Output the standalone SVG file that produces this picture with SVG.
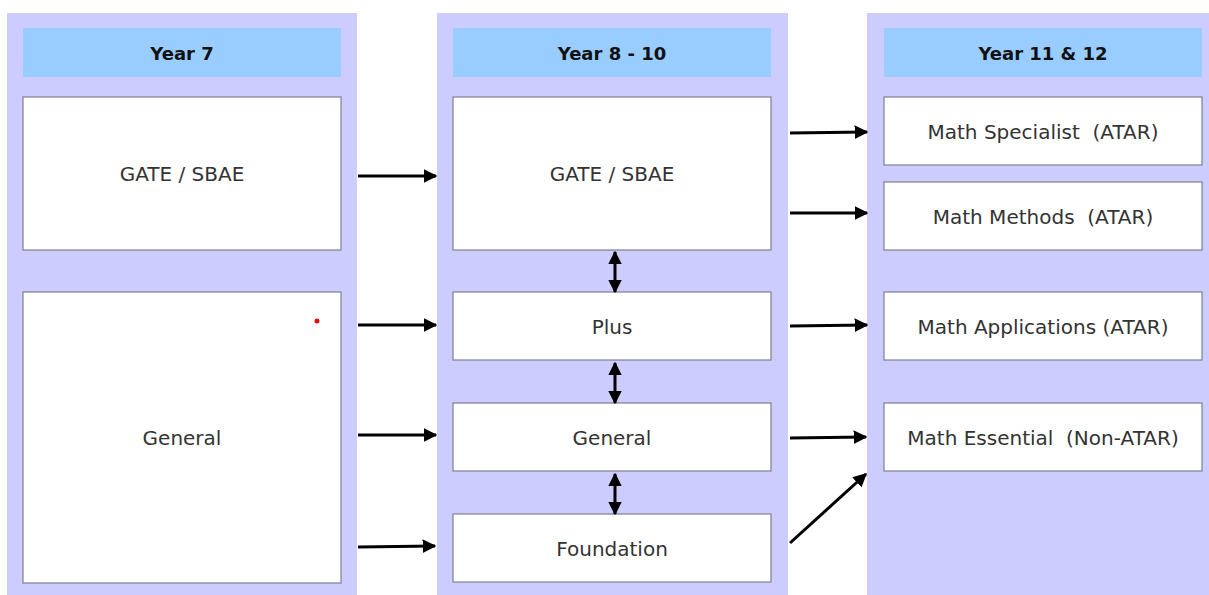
<svg xmlns="http://www.w3.org/2000/svg" width="1209" height="595" viewBox="0 0 1209 595">
  <style>
    .col { fill: #ccccff; }
    .head { fill: #99ccff; }
    .box { fill: #ffffff; stroke: #7f7f8f; stroke-width: 1.2; }
    .ht { font-family: "DejaVu Sans", "Liberation Sans", sans-serif; font-weight: bold; font-size: 18px; fill: #111; text-anchor: middle; dominant-baseline: central; }
    .bt { font-family: "DejaVu Sans", "Liberation Sans", sans-serif; font-size: 20px; fill: #333; text-anchor: middle; dominant-baseline: central; }
    .arr { stroke: #000; stroke-width: 3; fill: none; marker-end: url(#head); }
    .dbl { stroke: #000; stroke-width: 3; fill: none; marker-end: url(#head); marker-start: url(#tail); }
  </style>
  <defs>
    <marker id="head" viewBox="0 0 10 10" refX="9" refY="5" markerWidth="4.6" markerHeight="4.6" orient="auto" markerUnits="strokeWidth">
      <path d="M0,0 L10,5 L0,10 z" fill="#000"/>
    </marker>
    <marker id="tail" viewBox="0 0 10 10" refX="1" refY="5" markerWidth="4.6" markerHeight="4.6" orient="auto" markerUnits="strokeWidth">
      <path d="M10,0 L0,5 L10,10 z" fill="#000"/>
    </marker>
  </defs>
  <rect width="1209" height="595" fill="#ffffff"/>

  <!-- Year 7 column -->
  <g id="col-year7">
    <rect class="col" x="7" y="13" width="350" height="582"/>
    <rect class="head" x="23" y="28" width="318" height="49"/>
    <text class="ht" x="182" y="53">Year 7</text>
  </g>
  <g id="y7-gate">
    <rect class="box" x="23" y="97" width="318" height="153"/>
    <text class="bt" x="182" y="174">GATE / SBAE</text>
  </g>
  <g id="y7-general">
    <rect class="box" x="23" y="292" width="318" height="291"/>
    <text class="bt" x="182" y="438">General</text>
    <circle cx="317" cy="321" r="2.5" fill="#e01010"/>
  </g>

  <!-- Year 8 - 10 column -->
  <g id="col-year8-10">
    <rect class="col" x="437" y="13" width="351" height="582"/>
    <rect class="head" x="453" y="28" width="318" height="49"/>
    <text class="ht" x="612" y="53">Year 8 - 10</text>
  </g>
  <g id="y8-gate">
    <rect class="box" x="453" y="97" width="318" height="153"/>
    <text class="bt" x="612" y="174">GATE / SBAE</text>
  </g>
  <g id="y8-plus">
    <rect class="box" x="453" y="292" width="318" height="68"/>
    <text class="bt" x="612" y="327">Plus</text>
  </g>
  <g id="y8-general">
    <rect class="box" x="453" y="403" width="318" height="68"/>
    <text class="bt" x="612" y="438">General</text>
  </g>
  <g id="y8-foundation">
    <rect class="box" x="453" y="514" width="318" height="68"/>
    <text class="bt" x="612" y="549">Foundation</text>
  </g>

  <!-- Year 11 & 12 column -->
  <g id="col-year11-12">
    <rect class="col" x="867" y="13" width="342" height="582"/>
    <rect class="head" x="884" y="28" width="318" height="49"/>
    <text class="ht" x="1043" y="53">Year 11 &amp; 12</text>
  </g>
  <g id="y11-specialist">
    <rect class="box" x="884" y="97" width="318" height="68"/>
    <text class="bt" x="1043" y="132" xml:space="preserve">Math Specialist  (ATAR)</text>
  </g>
  <g id="y11-methods">
    <rect class="box" x="884" y="182" width="318" height="68"/>
    <text class="bt" x="1043" y="217" xml:space="preserve">Math Methods  (ATAR)</text>
  </g>
  <g id="y11-applications">
    <rect class="box" x="884" y="292" width="318" height="68"/>
    <text class="bt" x="1043" y="327">Math Applications (ATAR)</text>
  </g>
  <g id="y11-essential">
    <rect class="box" x="884" y="403" width="318" height="68"/>
    <text class="bt" x="1043" y="438" xml:space="preserve">Math Essential  (Non-ATAR)</text>
  </g>

  <!-- Connectors -->
  <g id="connectors">
    <line class="arr" x1="358" y1="176" x2="436" y2="176"/>
    <line class="arr" x1="358" y1="325" x2="436" y2="325"/>
    <line class="arr" x1="358" y1="435" x2="436" y2="435"/>
    <line class="arr" x1="358" y1="547" x2="435" y2="546"/>
    <line class="arr" x1="790" y1="133" x2="867" y2="132"/>
    <line class="arr" x1="790" y1="213" x2="867" y2="213"/>
    <line class="arr" x1="790" y1="326" x2="867" y2="325"/>
    <line class="arr" x1="790" y1="438" x2="866" y2="437"/>
    <line class="arr" x1="790" y1="543" x2="866" y2="474"/>
    <line class="dbl" x1="615" y1="252" x2="615" y2="292"/>
    <line class="dbl" x1="615" y1="363" x2="615" y2="403"/>
    <line class="dbl" x1="615" y1="474" x2="615" y2="514"/>
  </g>
</svg>
